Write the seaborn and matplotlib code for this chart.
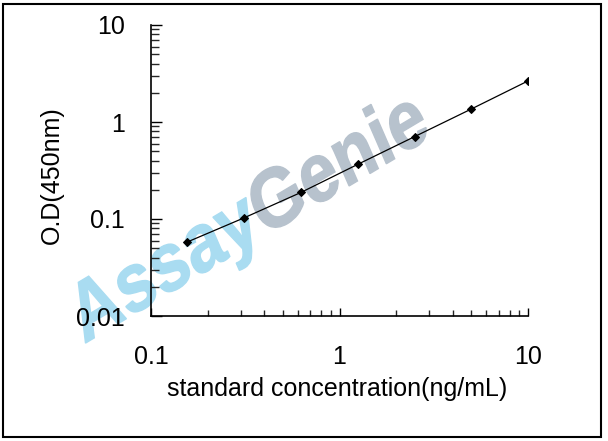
import matplotlib
matplotlib.use("Agg")
import matplotlib.pyplot as plt
import numpy as np
import pandas as pd
import seaborn as sns
from matplotlib.font_manager import FontProperties
from matplotlib.patches import PathPatch, Rectangle
from matplotlib.textpath import TextPath, text_to_path
from matplotlib.ticker import FixedLocator, FixedFormatter, LogLocator, NullFormatter
from matplotlib.transforms import Affine2D

# standard curve values
conc = [0.156, 0.3125, 0.625, 1.25, 2.5, 5, 10]
od = [0.058, 0.103, 0.188, 0.366, 0.706, 1.36, 2.65]

x_ticks = [0.1, 1, 10]
x_tick_labels = ['0.1', '1', '10']
y_ticks = [0.01, 0.1, 1, 10]
y_tick_labels = ['0.01', '0.1', '1', '10']

df = pd.DataFrame({'conc': conc, 'od': od})

sns.set_theme(style='ticks')
plt.rcParams['font.family'] = ['Liberation Sans', 'DejaVu Sans']

W, H = 608, 441
fig = plt.figure(figsize=(W / 100, H / 100), dpi=100)
ax = fig.add_axes([151 / W, (H - 316) / H, 377 / W, 291 / H])
ax.patch.set_alpha(0)

sns.lineplot(data=df, x='conc', y='od', ax=ax, color='black', lw=0.9,
             marker='D', markersize=4.5, markeredgecolor='black', zorder=3)

ax.set_xscale('log')
ax.set_yscale('log')
ax.set_xlim(0.1, 10)
ax.set_ylim(0.01, 10)

ax.xaxis.set_major_locator(FixedLocator(x_ticks))
ax.xaxis.set_major_formatter(FixedFormatter(x_tick_labels))
ax.yaxis.set_major_locator(FixedLocator(y_ticks))
ax.yaxis.set_major_formatter(FixedFormatter(y_tick_labels))
ax.xaxis.set_minor_locator(LogLocator(base=10, subs=np.arange(2, 10)))
ax.yaxis.set_minor_locator(LogLocator(base=10, subs=np.arange(2, 10)))
ax.xaxis.set_minor_formatter(NullFormatter())
ax.yaxis.set_minor_formatter(NullFormatter())

ax.tick_params(axis='y', which='major', direction='in', length=8, width=1, pad=19, labelsize=18, colors='black')
ax.tick_params(axis='y', which='minor', direction='in', length=6, width=1)
ax.tick_params(axis='x', which='major', direction='in', length=6, width=1, pad=21, labelsize=18, colors='black')
ax.tick_params(axis='x', which='minor', direction='in', length=4, width=1)

for s in ['top', 'right']:
    ax.spines[s].set_visible(False)
for s in ['left', 'bottom']:
    ax.spines[s].set_linewidth(1.2)
    ax.spines[s].set_color('black')

ax.set_xlabel('standard concentration(ng/mL)', fontsize=18, color='black')
ax.set_ylabel('O.D(450nm)', fontsize=18, color='black')
ax.xaxis.set_label_coords((337 - 151) / 377, (316 - 377) / 291)
ax.yaxis.set_label_coords((64 - 151) / 377, (316 - 175) / 291)

# watermark (rotated and slightly stretched vertically, as in the source image)
wm_prop = FontProperties(family='Liberation Sans', weight='bold', size=72)
ang, stretch = 27, 1.17
x0, y0 = 84, H - 344
w_assay = text_to_path.get_text_width_height_descent('Assay', wm_prop, ismath=False)[0]
wm_tr = Affine2D().scale(0.95, 1).rotate_deg(ang).scale(1, stretch).translate(x0, y0)
p1 = TextPath((0, 0), 'Assay', prop=wm_prop)
p2 = TextPath((w_assay, 0), 'Genie', prop=wm_prop)
fig.patches.append(PathPatch(p1, transform=wm_tr, fc='#a9dcf1', ec='#a9dcf1', lw=1, zorder=-1))
fig.patches.append(PathPatch(p2, transform=wm_tr, fc='#b7c2cd', ec='#b7c2cd', lw=1, zorder=-1))

# outer frame
fig.patches.append(Rectangle((3 / W, (H - 437) / H), 598 / W, 433 / H, transform=fig.transFigure,
                             fill=False, lw=1.5, ec='black'))

fig.savefig('out.png', dpi=100)
